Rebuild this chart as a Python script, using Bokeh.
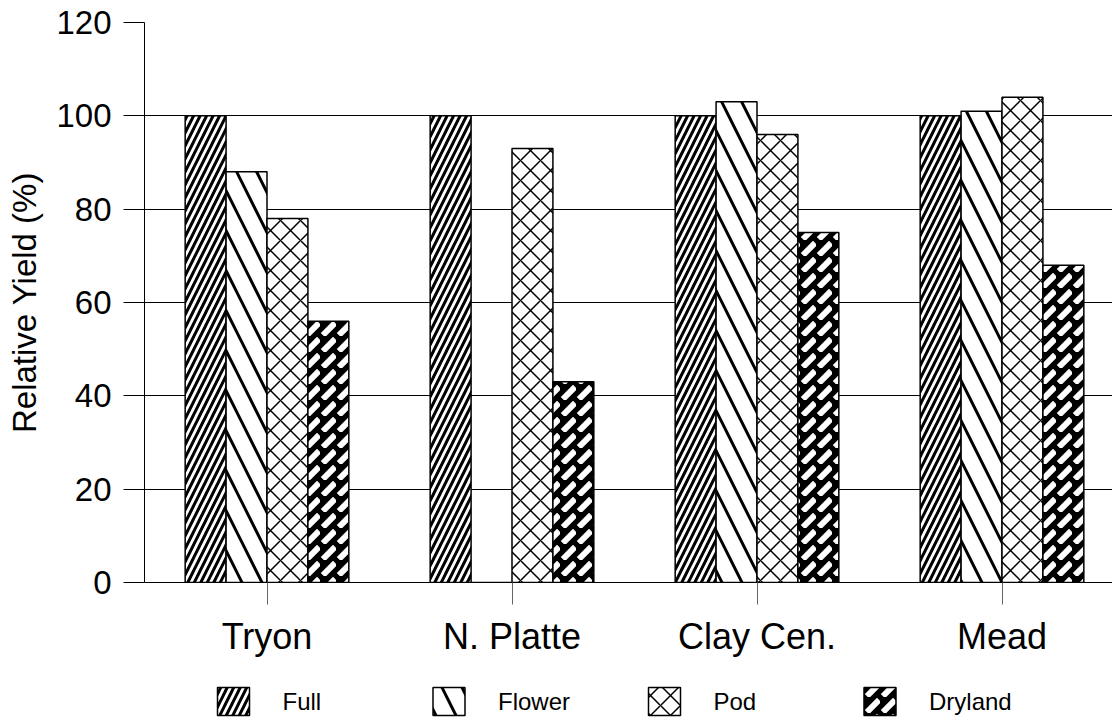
from bokeh.plotting import figure
from bokeh.layouts import column
from bokeh.models import FixedTicker, Range1d, ColumnDataSource
from bokeh.core.properties import value
from bokeh.embed import file_html
from bokeh.resources import INLINE

# ---- data ----
sites = ["Tryon", "N. Platte", "Clay Cen.", "Mead"]
treatments = ["Full", "Flower", "Pod", "Dryland"]
full = [100, 100, 100, 100]
flower = [88, 0, 103, 101]
pod = [78, 93, 96, 104]
dryland = [56, 43, 75, 68]
y_ticks = [0, 20, 40, 60, 80, 100, 120]

series = [full, flower, pod, dryland]

FONT = "Liberation Sans"
centers = [i + 0.5 for i in range(len(sites))]
bw = 0.167
offsets = [-1.5 * bw, -0.5 * bw, 0.5 * bw, 1.5 * bw]

styles = [
    dict(fill_color="white", hatch_pattern="/", hatch_color="black", hatch_scale=13, hatch_weight=3),
    dict(fill_color="white", hatch_pattern="\\", hatch_color="black", hatch_scale=40, hatch_weight=3),
    dict(fill_color="white", hatch_pattern="x", hatch_color="black", hatch_scale=20, hatch_weight=1.5),
    dict(fill_color="black", hatch_pattern=",", hatch_color="white", hatch_scale=16, hatch_weight=6),
]

p = figure(width=1112, height=665, output_backend="svg", toolbar_location=None,
           x_range=Range1d(0, 3.951), y_range=Range1d(0, 120),
           min_border_left=144, min_border_right=0, min_border_top=22, min_border_bottom=83)
p.outline_line_color = None
p.xgrid.visible = False
p.ygrid.grid_line_color = "black"
p.ygrid.grid_line_width = 1
p.ygrid.grid_line_alpha = 1.0

for vals, off, st in zip(series, offsets, styles):
    src = ColumnDataSource(dict(x=[c + off for c in centers], top=vals))
    p.vbar(x="x", top="top", bottom=0, width=bw, source=src,
           line_color="black", line_width=1.5, **st)

# y axis
p.yaxis.ticker = FixedTicker(ticks=y_ticks)
p.yaxis.axis_label = "Relative Yield (%)"
p.yaxis.axis_label_text_font = FONT
p.yaxis.axis_label_text_font_size = "33px"
p.yaxis.axis_label_text_font_style = "normal"
p.yaxis.axis_label_text_color = "black"
p.yaxis.axis_label_standoff = 10
p.yaxis.major_label_text_font = FONT
p.yaxis.major_label_text_font_size = "33px"
p.yaxis.major_label_text_color = "black"
p.yaxis.major_tick_out = 21
p.yaxis.major_tick_in = 0
p.yaxis.minor_tick_out = 0
p.yaxis.minor_tick_in = 0
p.yaxis.major_label_standoff = 12
p.yaxis.axis_line_color = "black"

# x axis
p.xaxis.ticker = FixedTicker(ticks=centers)
p.xaxis.major_label_overrides = {c: s for c, s in zip(centers, sites)}
p.xaxis.major_label_text_font = FONT
p.xaxis.major_label_text_font_size = "36px"
p.xaxis.major_label_text_color = "black"
p.xaxis.major_tick_out = 22
p.xaxis.major_tick_in = 0
p.xaxis.major_tick_line_color = "#666666"
p.xaxis.major_label_standoff = 11
p.xaxis.axis_line_color = "black"

# legend strip (x in page pixels; its frame is aligned with the main frame at 144)
LEG_X0, LEG_PITCH, SW_W, SW_H, LBL_GAP, LEG_Y = 217, 215.5, 32, 28, 65, 18
p2 = figure(width=1112, height=54, output_backend="svg", toolbar_location=None,
            x_range=Range1d(144, 1112), y_range=Range1d(0, 54),
            x_axis_location=None, y_axis_location=None, min_border=0)
p2.outline_line_color = None
p2.grid.visible = False
for i, (name, st) in enumerate(zip(treatments, styles)):
    x0 = LEG_X0 + i * LEG_PITCH
    p2.rect(x=[x0 + SW_W / 2], y=[LEG_Y], width=SW_W, height=SW_H,
            line_color="black", line_width=1.5, **st)
p2.text(x=[LEG_X0 + LBL_GAP + i * LEG_PITCH for i in range(len(treatments))],
        y=[LEG_Y] * len(treatments), text=treatments,
        text_font=value(FONT), text_font_size="24px", text_color="black",
        text_baseline="middle", text_align="left")

open("out.html", "w").write(file_html(column(p, p2), INLINE))
